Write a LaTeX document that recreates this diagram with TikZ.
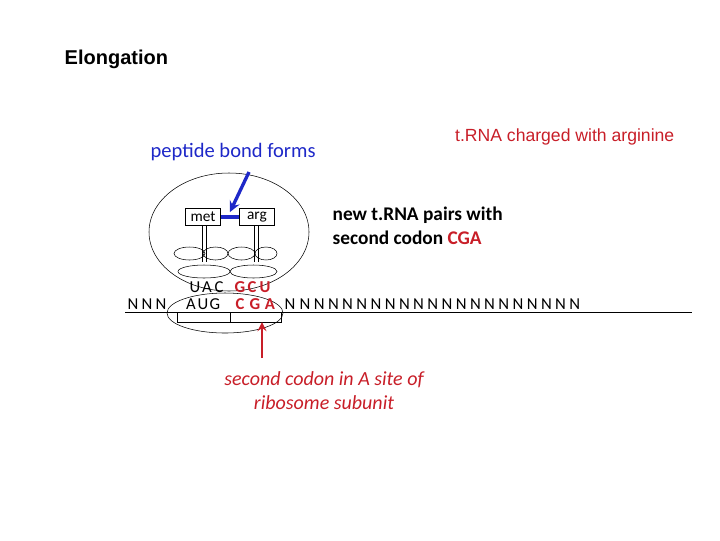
\documentclass[tikz,border=0pt]{standalone}
\usepackage{fontspec}
\setmainfont{Liberation Sans}
\newfontfamily\crl{Carlito}
\definecolor{rred}{RGB}{200,30,40}
\definecolor{bblue}{RGB}{30,40,200}
\begin{document}
\begin{tikzpicture}[x=0.75pt,y=-0.75pt,
  bx/.style={draw,inner sep=1.5pt,font=\crl\fontsize{11.5}{11.5}\selectfont,minimum width=35*0.75pt,minimum height=17*0.75pt},
  seq/.style={inner sep=0pt,font=\crl\fontsize{12.5}{12.5}\selectfont},
  seqr/.style={seq,text=rred,font=\crl\bfseries\fontsize{12.5}{12.5}\selectfont}]
\useasboundingbox (0,0) rectangle (720,540);
\node[anchor=west,font=\bfseries\fontsize{15}{15}\selectfont] (t) at (60,59) {Elongation};
\node[anchor=east,text=rred,font=\fontsize{13.2}{13.2}\selectfont] (c) at (679,137) {t.RNA charged with arginine};
\node[anchor=west,text=bblue,font=\crl\fontsize{15.4}{15.4}\selectfont] (p) at (146,152) {peptide bond forms};
\node[anchor=west,align=left,font=\crl\bfseries\fontsize{14.5}{18}\selectfont] (n) at (328,226) {new t.RNA pairs with\\second codon \textcolor{rred}{CGA}};
\node[align=center,text=rred,font=\crl\itshape\fontsize{15}{18}\selectfont] (s) at (324,391) {second codon in A site of\\ribosome subunit};
% ribosome
\draw (229,232) ellipse [x radius=80*0.75pt, y radius=59*0.75pt];
\draw (225,313) ellipse [x radius=58*0.75pt, y radius=20*0.75pt];
% tRNA ellipses
\foreach \cx/\r in {189.5/15.5,215.5/12.5,241.5/13.5,266/11}
  \draw (\cx,253.5) ellipse [x radius=\r*0.75pt, y radius=6.5*0.75pt];
\draw (204,271.5) ellipse [x radius=26*0.75pt, y radius=6.5*0.75pt];
\draw (253.5,271.5) ellipse [x radius=23.5*0.75pt, y radius=6.5*0.75pt];
\foreach \x in {202,206,254,258} \draw (\x,225) -- (\x,262);
\node[bx,fill=white] (met) at (203,217) {met};
\node[bx,fill=white] (arg) at (257,217) {arg};
\draw[bblue,line width=2.5pt] (met) -- (arg);
% mRNA
\coordinate (m1) at (125,312); \coordinate (m2) at (692,312);
\draw (m1) -- (m2);
\foreach \x/\l in {133/N,147/N,161/N,191/A,203/U,215/G,290/N} \node[seq] at (\x,304) {\l};
\foreach \i in {0,...,19} \node[seq] at (305+14.2*\i,304) {N};
\foreach \x/\l in {240/C,255/G,270/A} \node[seqr] at (\x,304) {\l};
\foreach \x/\l in {195/U,207/A,219/C} \node[seq] at (\x,287) {\l};
\foreach \x/\l in {240/G,252/C,265/U} \node[seqr] at (\x,287) {\l};
\draw (177,312) -- (177,322) -- (281,322) -- (281,312);
\draw (230,312) -- (230,322);
% arrows
\coordinate (b1) at (249,172); \coordinate (b2) at (230,212);
\draw[bblue,line width=2.5pt,-stealth] (b1) -- (b2);
\coordinate (r1) at (262,358); \coordinate (r2) at (262,322);
\draw[rred,line width=2pt,-stealth] (r1) -- (r2);
\end{tikzpicture}
\end{document}
